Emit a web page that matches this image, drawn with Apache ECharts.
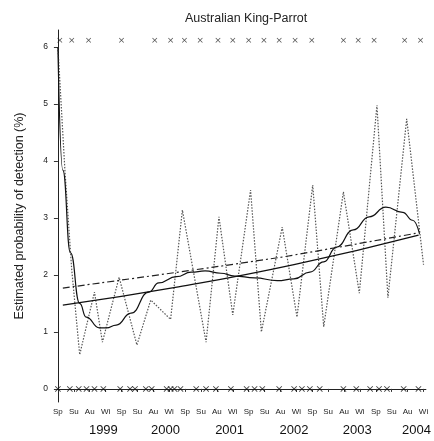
<!DOCTYPE html>
<html>
<head>
<meta charset="utf-8">
<script src="https://cdn.jsdelivr.net/npm/echarts@6/dist/echarts.min.js"></script>
<style>html,body{margin:0;padding:0;background:#fff}#c{width:434px;height:441px}</style>
</head>
<body>
<div id="c"></div>
<script>
// ---- data (x in season units: 0 = Sp 1998, 23 = Wi 2004) ----
const seasons = ['Sp','Su','Au','Wi','Sp','Su','Au','Wi','Sp','Su','Au','Wi','Sp','Su','Au','Wi','Sp','Su','Au','Wi','Sp','Su','Au','Wi'];
const seasonTicks = [0,1,2,3,4,5,6,7,8,9,10,11,12,13,14,15,16,17,18,19,20,21,22,23];
const years = ['1999','2000','2001','2002','2003','2004'];
const yearPos = [2.86, 6.77, 10.8, 14.85, 18.83, 22.56];
const yTicks = [0,1,2,3,4,5,6];
const yTitle = 'Estimated probability of detection (%)';

// dotted seasonal estimate
const rawX = [0, 0.44, 0.87, 1.37, 2.30, 2.80, 3.85, 4.97, 5.84, 7.09, 7.83, 9.32, 10.13, 11.0, 12.12, 12.80, 14.11, 15.04, 16.03, 16.72, 17.96, 18.96, 20.07, 20.76, 21.94, 23.0];
const rawY = [6.0, 3.84, 2.09, 0.6, 1.70, 0.82, 1.96, 0.77, 1.56, 1.22, 3.14, 0.82, 3.02, 1.30, 3.49, 1.0, 2.84, 1.26, 3.58, 1.09, 3.46, 1.68, 4.98, 1.6, 4.74, 2.18];

// smooth (GAM-like) curve
const smoothX = [0, 0.31, 0.79, 1.37, 1.78, 2.61, 3.05, 3.67, 4.6, 5.72, 6.34, 7.46, 8.39, 9.26, 10.25, 11.12, 12.37, 13.8, 14.85, 15.85, 16.72, 17.53, 18.58, 19.58, 20.63, 21.69, 22.31, 22.75];
const smoothY = [6.0, 3.84, 2.39, 1.5, 1.26, 1.07, 1.07, 1.12, 1.33, 1.70, 1.86, 1.97, 2.05, 2.07, 2.03, 1.98, 1.95, 1.9, 1.93, 2.05, 2.23, 2.49, 2.79, 3.02, 3.19, 3.1, 2.96, 2.72];

// solid trend
const trendX = [0.31, 7.58, 14.85, 22.69];
const trendY = [1.47, 1.79, 2.18, 2.70];

// dash-dot trend
const altX = [0.31, 7.58, 12.8, 14.85, 22.69];
const altY = [1.77, 2.05, 2.26, 2.35, 2.74];

// detections (top) / non-detections (bottom)
const topX = [0.12, 0.87, 1.93, 4.0, 6.09, 7.09, 7.96, 8.95, 10.07, 11.0, 12.0, 12.96, 13.92, 14.92, 15.97, 17.96, 18.89, 19.89, 21.81, 22.81];
const topLevel = 6.12;
const bottomX = [0, 0.75, 1.31, 1.80, 2.30, 2.86, 3.92, 4.54, 4.85, 5.53, 5.90, 6.84, 7.09, 7.33, 7.71, 8.70, 9.32, 9.94, 10.88, 11.87, 12.37, 12.86, 13.92, 14.86, 15.35, 15.85, 16.47, 17.96, 18.77, 19.64, 20.20, 20.70, 21.75, 22.68];
const bottomLevel = 0;

const zip = (xs, ys) => xs.map((x, i) => [x, ys[i]]);
const crossPath = 'path://M0,1L1,0L5,4L9,0L10,1L6,5L10,9L9,10L5,6L1,10L0,9L4,5Z';
const FONT = 'Liberation Sans';

const chart = echarts.init(document.getElementById('c'), null, {renderer: 'canvas'});
chart.setOption({
  backgroundColor: '#fff',
  animation: false,
  title: {
    text: 'Australian King-Parrot',
    left: 180, top: 7,
    textStyle: {fontFamily: FONT, fontSize: 12.5, fontWeight: 'normal', color: '#222'}
  },
  graphic: [{
    type: 'text', x: 20, y: 216, rotation: Math.PI / 2,
    style: {text: yTitle, font: '12.5px "Liberation Sans"', fill: '#222', align: 'center', verticalAlign: 'middle'}
  }],
  grid: {left: 56, right: 4, top: 30, bottom: 39, containLabel: false},
  xAxis: [{
    type: 'value', min: -0.12, max: 23.15,
    axisLine: {show: true, lineStyle: {color: '#222', width: 1}},
    axisTick: {show: true, customValues: seasonTicks, length: 3, lineStyle: {color: '#333'}},
    axisLabel: {customValues: seasonTicks, formatter: v => seasons[Math.round(v)] || '',
      fontFamily: FONT, fontSize: 8, color: '#222', margin: 6},
    splitLine: {show: false}
  }, {
    type: 'value', min: -0.12, max: 23.15, position: 'bottom', offset: 16,
    axisLine: {show: false}, axisTick: {show: false},
    axisLabel: {customValues: yearPos, formatter: v => {
      let best = 0; yearPos.forEach((p, i) => { if (Math.abs(p - v) < Math.abs(yearPos[best] - v)) best = i; });
      return years[best];
    }, fontFamily: FONT, fontSize: 13, color: '#111', margin: 6},
    splitLine: {show: false}
  }],
  yAxis: {
    type: 'value', min: -0.23, max: 6.3,
    axisLine: {show: true, lineStyle: {color: '#222', width: 1}},
    axisTick: {show: true, customValues: yTicks, length: 4, lineStyle: {color: '#333'}},
    axisLabel: {customValues: yTicks, fontFamily: FONT, fontSize: 8.5, color: '#222', margin: 8},
    splitLine: {show: false}
  },
  series: [
    {type: 'line', data: zip(rawX, rawY), symbol: 'none', smooth: false,
      lineStyle: {color: '#555', width: 1.2, type: [1.5, 1.5]}, z: 2},
    {type: 'line', data: zip(smoothX, smoothY), symbol: 'none', smooth: 0.5, smoothMonotone: 'x',
      lineStyle: {color: '#111', width: 1.2}, z: 3},
    {type: 'line', data: zip(trendX, trendY), symbol: 'none', smooth: true,
      lineStyle: {color: '#111', width: 1.3}, z: 3},
    {type: 'line', data: zip(altX, altY), symbol: 'none', smooth: true,
      lineStyle: {color: '#222', width: 1.2, type: [7, 3, 2, 3]}, z: 3},
    {type: 'scatter', data: topX.map(x => [x, topLevel]), symbol: crossPath, symbolSize: 5,
      itemStyle: {color: '#222'}, z: 4},
    {type: 'scatter', data: bottomX.map(x => [x, bottomLevel]), symbol: crossPath, symbolSize: 6,
      itemStyle: {color: '#111'}, z: 4}
  ]
});
</script>
</body>
</html>
